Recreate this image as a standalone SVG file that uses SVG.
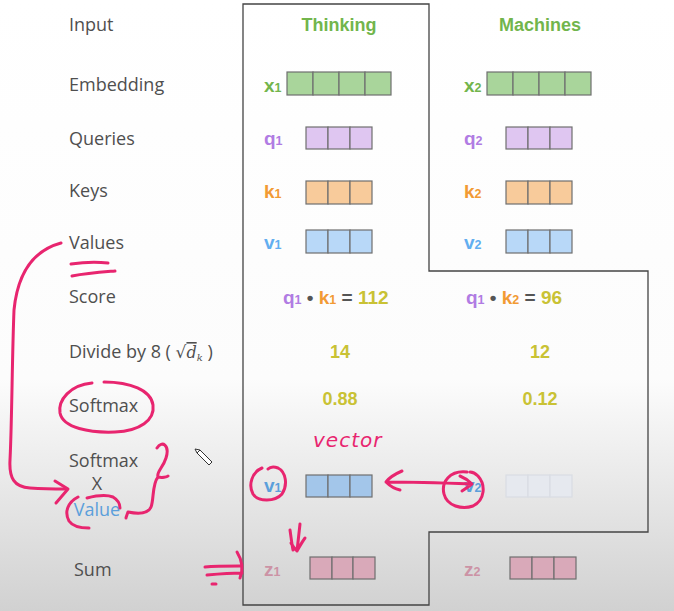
<svg xmlns="http://www.w3.org/2000/svg" width="674" height="611" viewBox="0 0 674 611">
<defs>
<linearGradient id="bg" x1="0" y1="0" x2="0" y2="1">
<stop offset="0" stop-color="#ffffff"/>
<stop offset="0.62" stop-color="#fcfcfc"/>
<stop offset="1" stop-color="#d1d1d1"/>
</linearGradient>
<style>
.lbl{font-family:"Open Sans","Noto Sans",sans-serif;font-size:18px;fill:#4f4f4f;}
.hd{font-family:"Liberation Sans",Arial,sans-serif;font-weight:bold;font-size:18px;fill:#72b54c;}
.sym{font-family:"Liberation Sans",Arial,sans-serif;font-weight:bold;font-size:19px;}
.sub{font-size:12.5px;}
.num{font-family:"Liberation Sans",Arial,sans-serif;font-weight:bold;font-size:18px;fill:#c9c234;}
.cell{stroke:#6f6f6f;stroke-width:1.2;}
.emb{fill:#a9d59b;}
.qry{fill:#dfc6f1;}
.key{fill:#f8cb9b;}
.val{fill:#b8d8f8;}
.val2{fill:#a3c6ea;}
.fad{fill:#e6e9ef;stroke:#d9dde3;}
.zz{fill:#d9a9b9;}
.ink{fill:none;stroke:#e8256f;stroke-width:3;stroke-linecap:round;stroke-linejoin:round;}
.q{fill:#b17ce3;}
.k{fill:#f29a33;}
.v{fill:#62aef0;}
.z{fill:#cc93a5;}
</style>
</defs>
<rect width="674" height="611" fill="url(#bg)"/>

<g id="frame">
<path d="M243,4 H429 V271 H648 V532 H429 V605 H243 Z" fill="none" stroke="#444" stroke-width="1.3"/>
</g>

<g id="row-labels">
<text class="lbl" x="69" y="31">Input</text>
<text class="lbl" x="69" y="91">Embedding</text>
<text class="lbl" x="69" y="145">Queries</text>
<text class="lbl" x="69" y="197">Keys</text>
<text class="lbl" x="69" y="249">Values</text>
<text class="lbl" x="69" y="303">Score</text>
<text class="lbl" x="69" y="358">Divide by 8 ( <tspan font-family="'DejaVu Serif','Liberation Serif',serif" font-size="17">√</tspan><tspan font-family="'DejaVu Serif','Liberation Serif',serif" font-style="italic" font-size="16" text-decoration="overline">d</tspan><tspan font-family="'DejaVu Serif','Liberation Serif',serif" font-style="italic" font-size="10" dy="3">k</tspan><tspan dy="-3">   )</tspan></text>
<text class="lbl" x="69" y="412">Softmax</text>
<text class="lbl" x="69" y="467">Softmax</text>
<text class="lbl" x="97" y="490" text-anchor="middle">X</text>
<text class="lbl" x="97" y="516" text-anchor="middle" style="fill:#5b9fdb">Value</text>
<text class="lbl" x="74" y="576">Sum</text>
</g>

<g id="col-thinking">
<text class="hd" x="339" y="31" text-anchor="middle">Thinking</text>
<text class="sym" x="264" y="92" style="fill:#72b54c">x<tspan class="sub">1</tspan></text>
<g class="cell emb"><rect x="287" y="72" width="26" height="23"/><rect x="313" y="72" width="26" height="23"/><rect x="339" y="72" width="26" height="23"/><rect x="365" y="72" width="26" height="23"/></g>
<text class="sym q" x="264" y="145">q<tspan class="sub">1</tspan></text>
<g class="cell qry"><rect x="306" y="127" width="22" height="22"/><rect x="328" y="127" width="22" height="22"/><rect x="350" y="127" width="22" height="22"/></g>
<text class="sym k" x="264" y="198">k<tspan class="sub">1</tspan></text>
<g class="cell key"><rect x="306" y="181" width="22" height="23"/><rect x="328" y="181" width="22" height="23"/><rect x="350" y="181" width="22" height="23"/></g>
<text class="sym v" x="264" y="249">v<tspan class="sub">1</tspan></text>
<g class="cell val"><rect x="306" y="230" width="22" height="23"/><rect x="328" y="230" width="22" height="23"/><rect x="350" y="230" width="22" height="23"/></g>
<text class="sym" x="283" y="304"><tspan class="q">q<tspan class="sub">1</tspan></tspan><tspan fill="#555"> • </tspan><tspan class="k">k<tspan class="sub">1</tspan></tspan><tspan fill="#555"> = </tspan><tspan fill="#c9c234">112</tspan></text>
<text class="num" x="340" y="358" text-anchor="middle">14</text>
<text class="num" x="340" y="405" text-anchor="middle">0.88</text>
<text class="sym v" x="264" y="492" style="fill:#5b9fdb">v<tspan class="sub">1</tspan></text>
<g class="cell val2"><rect x="306" y="475" width="22" height="22"/><rect x="328" y="475" width="22" height="22"/><rect x="350" y="475" width="22" height="22"/></g>
<text class="sym z" x="264" y="576">z<tspan class="sub">1</tspan></text>
<g class="cell zz"><rect x="310" y="557" width="22" height="22"/><rect x="332" y="557" width="21" height="22"/><rect x="353" y="557" width="22" height="22"/></g>
</g>

<g id="col-machines">
<text class="hd" x="540" y="31" text-anchor="middle">Machines</text>
<text class="sym" x="464" y="92" style="fill:#72b54c">x<tspan class="sub">2</tspan></text>
<g class="cell emb"><rect x="487" y="72" width="26" height="23"/><rect x="513" y="72" width="26" height="23"/><rect x="539" y="72" width="26" height="23"/><rect x="565" y="72" width="26" height="23"/></g>
<text class="sym q" x="464" y="145">q<tspan class="sub">2</tspan></text>
<g class="cell qry"><rect x="506" y="127" width="22" height="22"/><rect x="528" y="127" width="22" height="22"/><rect x="550" y="127" width="22" height="22"/></g>
<text class="sym k" x="464" y="198">k<tspan class="sub">2</tspan></text>
<g class="cell key"><rect x="506" y="181" width="22" height="23"/><rect x="528" y="181" width="22" height="23"/><rect x="550" y="181" width="22" height="23"/></g>
<text class="sym v" x="464" y="249">v<tspan class="sub">2</tspan></text>
<g class="cell val"><rect x="506" y="230" width="22" height="23"/><rect x="528" y="230" width="22" height="23"/><rect x="550" y="230" width="22" height="23"/></g>
<text class="sym" x="466" y="304"><tspan class="q">q<tspan class="sub">1</tspan></tspan><tspan fill="#555"> • </tspan><tspan class="k">k<tspan class="sub">2</tspan></tspan><tspan fill="#555"> = </tspan><tspan fill="#c9c234">96</tspan></text>
<text class="num" x="540" y="358" text-anchor="middle">12</text>
<text class="num" x="540" y="405" text-anchor="middle">0.12</text>
<text class="sym" x="464" y="492" style="fill:#5b9fdb">v<tspan class="sub">2</tspan></text>
<g class="cell fad"><rect x="506" y="475" width="22" height="22"/><rect x="528" y="475" width="22" height="22"/><rect x="550" y="475" width="22" height="22"/></g>
<text class="sym z" x="464" y="576">z<tspan class="sub">2</tspan></text>
<g class="cell zz"><rect x="510" y="557" width="22" height="22"/><rect x="532" y="557" width="22" height="22"/><rect x="554" y="557" width="22" height="22"/></g>
</g>

<g id="annotations">
<path class="ink" d="M61,243 C35,250 18,270 14,310 C12,360 12,420 10,460 C9,478 14,487 30,488 C45,489 55,489 66,489"/>
<path class="ink" d="M55,481 L68,489 L56,503"/>
<path class="ink" d="M71,264 C85,262 98,262 108,263"/>
<path class="ink" d="M72,276 C88,273 103,272 115,271"/>
<path class="ink" d="M92,383 C70,385 58,400 60,413 C63,428 90,433 115,432 C140,431 155,420 153,405 C151,390 130,382 104,382"/>
<path class="ink" d="M157,448 C162,440 170,445 166,458 C163,468 156,472 158,477 C162,478 167,477 168,476 M158,477 C152,484 154,500 151,507 C148,514 138,514 128,512 C127,515 126,517 126,518"/>
<path class="ink" d="M78,497 C68,502 64,512 69,521 C73,527 82,528 89,528"/>
<path class="ink" d="M87,498 C95,496 105,494 113,497 C118,500 120,504 120,508"/>
<path class="ink" d="M205,567 C215,566 230,566 240,566 M207,575 C218,574 232,573 242,573 M237,552 C242,560 244,568 240,578 M212,584 L216,584"/>
<path class="ink" d="M262,468 C252,472 248,485 253,494 C258,502 275,502 282,494 C288,485 286,472 278,468 C273,466 270,467 268,469"/>
<path class="ink" d="M386,482 C410,482 445,483 472,484 M402,471 C395,474 389,478 386,482 C390,486 395,489 400,490 M460,476 C465,478 469,481 472,484 C468,487 465,489 462,491"/>
<path class="ink" d="M467,472 C450,470 441,482 444,494 C447,506 462,510 473,506 C485,500 486,485 478,476 C475,473 472,472 470,472"/>
<path class="ink" d="M290,530 C291,537 292,545 293,550 M300,524 C299,533 298,542 297,551 M291,543 C293,547 295,549 297,551 C300,546 302,542 305,538"/>
<text x="313" y="447" font-family="'DejaVu Sans','Liberation Sans',sans-serif" font-style="italic" font-size="20" fill="#e8256f" letter-spacing="1">vector</text>
<path d="M200,450 L212,462 L209,465 L197,453 Z M197,453 L195,449 L200,450" fill="#fff" stroke="#333" stroke-width="1"/>
</g>
</svg>
